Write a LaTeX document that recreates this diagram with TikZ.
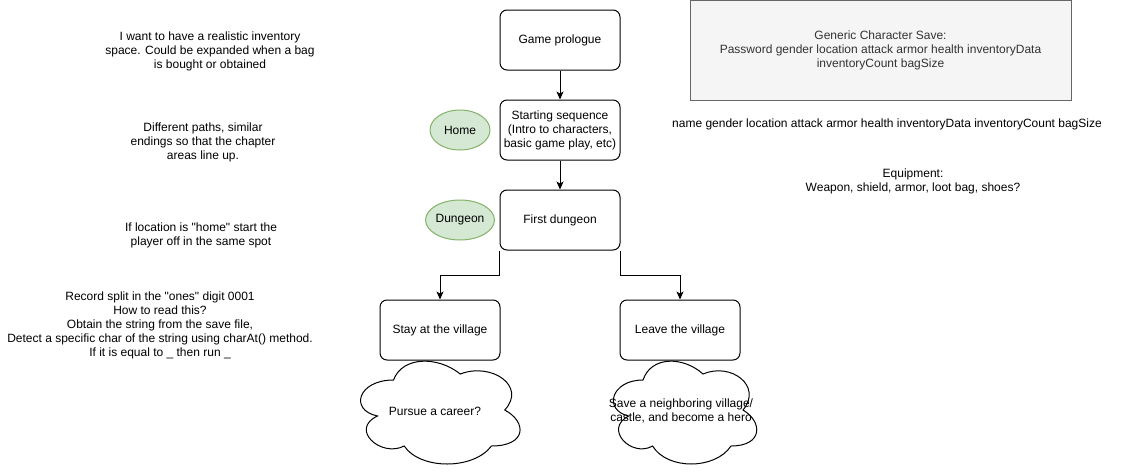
\documentclass[tikz,border=0pt]{standalone}
\usepackage{fontspec}
\setmainfont{Liberation Sans}[Ligatures=TeXOff]
\usetikzlibrary{arrows.meta,shapes.geometric}
\definecolor{greenfill}{HTML}{D5E8D4}
\definecolor{greenline}{HTML}{82B366}
\definecolor{grayfill}{HTML}{F5F5F5}
\definecolor{grayline}{HTML}{666666}
\definecolor{graytext}{HTML}{333333}
\newcommand{\drawiocloud}[4]{%
  \draw[cloudline] ({#1+0.25*#3},{#2+0.25*#4})
    .. controls ({#1+0.05*#3},{#2+0.25*#4}) and ({#1},{#2+0.5*#4}) .. ({#1+0.16*#3},{#2+0.55*#4})
    .. controls ({#1},{#2+0.66*#4}) and ({#1+0.18*#3},{#2+0.9*#4}) .. ({#1+0.31*#3},{#2+0.8*#4})
    .. controls ({#1+0.4*#3},{#2+#4}) and ({#1+0.7*#3},{#2+#4}) .. ({#1+0.8*#3},{#2+0.8*#4})
    .. controls ({#1+#3},{#2+0.8*#4}) and ({#1+#3},{#2+0.6*#4}) .. ({#1+0.875*#3},{#2+0.5*#4})
    .. controls ({#1+#3},{#2+0.3*#4}) and ({#1+0.8*#3},{#2+0.1*#4}) .. ({#1+0.625*#3},{#2+0.2*#4})
    .. controls ({#1+0.5*#3},{#2+0.05*#4}) and ({#1+0.3*#3},{#2+0.05*#4}) .. cycle;}
\tikzset{
  every node/.style={font=\fontsize{12pt}{14pt}\selectfont, align=center},
  stepbox/.style={draw, line width=1pt, rounded corners=7pt, minimum width=120pt, minimum height=60pt, inner sep=0pt},
  tag/.style={draw=greenline, fill=greenfill, line width=1pt, ellipse, minimum width=60pt, minimum height=40pt, inner sep=0pt},
  savebox/.style={draw=grayline, fill=grayfill, text=graytext, line width=1pt, minimum width=381pt, minimum height=100pt, inner sep=0pt},
  txt/.style={inner sep=0pt},
  arr/.style={line width=1pt, -{Stealth[length=8pt,width=7pt,inset=2pt]}},
  cloudline/.style={draw, line width=1pt, fill=white},
}
\begin{document}
\begin{tikzpicture}[x=1pt, y=-1pt]
\useasboundingbox (0,0) rectangle (1131,471);
% flow boxes
\node[stepbox] (pro) at (560,40) {Game prologue};
\node[stepbox] (start) at (560,130) {Starting sequence\\(Intro to characters,\\basic game play, etc)};
\node[stepbox] (dung) at (560,220) {First dungeon};
\node[stepbox] (stay) at (440,330) {Stay at the village};
\node[stepbox] (leave) at (680,330) {Leave the village};
% tags
\node[tag] (home) at (460,130) {Home};
\node[tag] (dtag) at (460,220) {Dungeon};
% connectors
\draw[arr] (pro) -- (start);
\draw[arr] (start) -- (dung);
\draw[arr] (dung.south west) -- ++(0,25) -| (stay.north);
\draw[arr] (dung.south east) -- ++(0,25) -| (leave.north);
% clouds
\drawiocloud{349}{350}{178}{120}
\node[txt] (career) at (435,411) {Pursue a career?};
\drawiocloud{603}{350}{160}{120}
\node[txt] (hero) at (681,411) {Save a neighboring village/\\castle, and become a hero};
% save box
\node[savebox] (save) at (880.5,50) {Generic Character Save:\\Password gender location attack armor health inventoryData\\inventoryCount bagSize};
% free texts
\node[txt] (fields) at (887,124) {name gender location attack armor health inventoryData inventoryCount bagSize};
\node[txt] (equip) at (913,181) {Equipment:\\Weapon, shield, armor, loot bag, shoes?};
\node[txt] (inv) at (210,51) {I want to have a realistic inventory\\space. Could be expanded when a bag\\is bought or obtained};
\node[txt] (paths) at (203,142) {Different paths, similar\\endings so that the chapter\\areas line up.};
\node[txt] (loc) at (201,235) {If location is "home" start the\\player off in the same spot};
\node[txt] (rec) at (160,325) {Record split in the "ones" digit 0001\\How to read this?\\Obtain the string from the save file,\\Detect a specific char of the string using charAt() method.\\If it is equal to \_ then run \_};
\end{tikzpicture}
\end{document}
